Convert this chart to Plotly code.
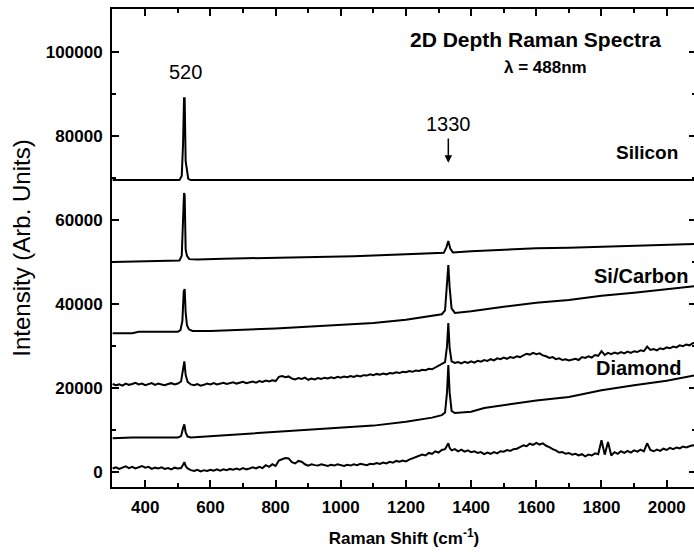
import plotly.graph_objects as go

# ---- Data ----
si_x = [300, 400, 500, 505, 512, 516, 519, 521, 524, 528, 532, 540, 700, 1000, 1300, 1600, 1900, 2090]
si_y = [69500, 69500, 69500, 69500, 70500, 78000, 89000, 89000, 74000, 72000, 69800, 69500, 69500, 69500, 69500, 69500, 69500, 69500]

t2_x = [300, 360, 420, 480, 505, 512, 516, 519, 521, 524, 528, 535, 560, 640, 720, 800, 880, 960, 1040, 1120,
        1200, 1280, 1316, 1324, 1330, 1336, 1344, 1400, 1500, 1600, 1700, 1800, 1900, 2000, 2090]
t2_y = [50000, 50100, 50200, 50300, 50400, 51500, 58000, 66400, 66000, 53000, 51500, 50700, 50600, 50800, 50900,
        51100, 51200, 51300, 51400, 51600, 51900, 52100, 52200, 53500, 55000, 53200, 52300, 52600, 52900, 53300,
        53400, 53600, 53800, 54000, 54300]

t3_x = [300, 360, 380, 500, 508, 514, 518, 521, 524, 528, 534, 545, 600, 660, 700, 800, 900, 1000, 1100, 1200,
        1280, 1310, 1320, 1326, 1330, 1334, 1340, 1350, 1400, 1500, 1600, 1700, 1800, 1900, 2000, 2090]
t3_y = [33100, 33100, 33400, 33400, 33800, 36000, 43000, 43600, 38000, 35000, 34000, 33600, 33600, 33700, 33900,
        34200, 34600, 35000, 35500, 36300, 37200, 37600, 38500, 44000, 49300, 44000, 39000, 37900, 38300, 39400,
        40300, 41000, 42000, 42700, 43500, 44300]

t4_x = list(range(300, 511, 10)) + [516, 520, 524] + list(range(530, 1321, 10)) + [1326, 1330, 1334] + list(range(1340, 2091, 10))
t4_y = [21000, 20700, 20900, 20600, 21100, 20800, 21000, 21300, 20900, 21100, 20700, 21000, 21200, 20800, 21100,
        20900, 20700, 21000, 21200, 20900, 21100, 21600,
        24800, 26400, 23200,
        21500, 20900, 20700, 21000, 20600, 20800, 21100, 20900, 21200, 20900,
        21100, 21300, 21000, 21200, 21400, 21100, 21300, 21500, 21200, 21400,
        21600, 21300, 21700, 21500, 21800, 21600, 21900, 21700, 22700, 22900,
        22600, 22800, 22300, 22100, 22400, 22200, 22500, 22000, 22300, 22100,
        22400, 22200, 22500, 22300, 22600, 22400, 22700, 22500, 22800, 22600,
        22900, 22700, 23000, 22800, 23100, 23000, 23300, 23100, 23400, 23200,
        23500, 23300, 23600, 23500, 23800, 23600, 23900, 23800, 24100, 23900,
        24200, 24100, 24400, 24300, 24600, 24500, 24900, 25200, 25600, 26200,
        30000, 35500, 29500,
        26400, 26000, 26200, 25900, 26300, 26000, 26400, 26100, 26500, 26300,
        26700, 26500, 26900, 26600, 27100, 26900, 27300, 27000, 27400, 27200,
        27600, 27400, 27900, 28200, 28000, 28400, 28100, 28300, 27800, 27600,
        27200, 27400, 26900, 27100, 26700, 26900, 26600, 26800, 27000, 26700,
        27400, 27200, 27600, 27300, 27900, 27700, 28800, 27900, 28400, 28100,
        28500, 28200, 28600, 28300, 28700, 28400, 28800, 28600, 29000, 28800,
        29900, 29100, 29300, 29000, 29500, 29300, 29700, 29500, 29900, 29700,
        30200, 30000, 30400, 30200, 30700, 30800]

t5_x = [300, 360, 500, 510, 516, 520, 524, 530, 540, 600, 700, 800, 900, 1000, 1100, 1200, 1280, 1310, 1320,
        1326, 1330, 1334, 1340, 1350, 1400, 1440, 1500, 1600, 1700, 1800, 1900, 2000, 2090]
t5_y = [8100, 8300, 8300, 8600, 10500, 11400, 9500, 8500, 8300, 8600, 9000, 9500, 10000, 10500, 11100, 12000,
        13000, 13600, 14200, 19000, 25500, 19000, 14600, 14100, 14400, 15300, 16000, 17100, 17900, 19500, 20700,
        21800, 23100]

t6_x = list(range(300, 511, 10)) + [516, 520, 524] + list(range(530, 1321, 10)) + [1326, 1330, 1334] + list(range(1340, 2091, 10))
t6_y = [900, 1200, 800, 1100, 1400, 1000, 1300, 900, 1200, 1500, 1100, 1300, 800, 1100, 900, 1200, 800, 1000,
        700, 1100, 900, 1000,
        1800, 2400, 1500,
        900, 500, 300, 600, 200, 500, 300, 600, 400, 700,
        400, 700, 500, 800, 600, 900, 600, 1000, 700, 900,
        1200, 900, 1300, 1000, 1700, 1300, 1900, 1500, 2800, 3100,
        3400, 3300, 2400, 2100, 2700, 2500, 1900, 1600, 1900, 1700,
        1600, 1900, 1700, 1500, 1800, 1600, 1900, 1700, 1500, 1800,
        1600, 1900, 1700, 2000, 1800, 1700, 2000, 1900, 2200, 2000,
        2300, 2100, 2500, 2300, 2700, 2500, 2800, 2600, 3000, 3300,
        3600, 3900, 4200, 4000, 4600, 4400, 5000, 4700, 5300, 5500,
        6300, 6900, 5800,
        5200, 5500, 5000, 5400, 4900, 5200, 4800, 5000, 4600, 4800,
        4300, 4700, 4400, 4800, 4500, 5000, 4900, 5300, 5100, 5500,
        5600, 6000, 6400, 6200, 6800, 6500, 7000, 6600, 6900, 6300,
        6000, 5500, 5200, 4700, 4800, 4400, 4600, 4200, 4400, 4000,
        4300, 3800, 4200, 4000, 4500, 4300, 7600, 4200, 7200, 4000,
        4800, 4400, 5000, 4600, 5100, 4700, 5200, 4900, 5400, 5000,
        6900, 5300, 5000, 5400, 5100, 5600, 5300, 5800, 5500, 5900,
        5700, 6100, 5900, 6200, 6400, 6300]

series = [(si_x, si_y), (t2_x, t2_y), (t3_x, t3_y), (t4_x, t4_y), (t5_x, t5_y), (t6_x, t6_y)]

x_ticks = [400, 600, 800, 1000, 1200, 1400, 1600, 1800, 2000]
y_ticks = [0, 20000, 40000, 60000, 80000, 100000]

FONT = "Liberation Sans, Arial, sans-serif"

fig = go.Figure()
for xs, ys in series:
    fig.add_trace(go.Scatter(x=xs, y=ys, mode="lines",
                             line=dict(color="black", width=2), showlegend=False,
                             hoverinfo="skip"))

def txt(x, y, s, size=15, xanchor="center", bold=True):
    fig.add_annotation(x=x, y=y, text=(f"<b>{s}</b>" if bold else s), showarrow=False,
                       xanchor=xanchor, yanchor="middle",
                       font=dict(family=FONT, size=size, color="black"))

txt(1599, 102860, "2D Depth Raman Spectra", size=21)
txt(1629, 96190, "λ = 488nm", size=17)
txt(522, 95240, "520", size=20, bold=False)
txt(2042, 75950, "Silicon", size=19, xanchor="right")
txt(2073, 46670, "Si/Carbon", size=20, xanchor="right")
txt(2054, 24760, "Diamond", size=20, xanchor="right")

# "1330" label with its down arrow
fig.add_annotation(x=1330, y=73600, ax=1330, ay=82860, axref="x", ayref="y",
                   xref="x", yref="y", text="1330", showarrow=True,
                   arrowhead=2, arrowsize=1, arrowwidth=1.5, arrowcolor="black",
                   startstandoff=2,
                   font=dict(family=FONT, size=20, color="black"))

axis_common = dict(showline=True, linecolor="black", linewidth=2, mirror="allticks",
                   ticks="inside", ticklen=7, tickwidth=2, tickcolor="black",
                   showgrid=False, zeroline=False, ticklabelstandoff=4,
                   tickfont=dict(family=FONT, size=17, color="black", weight="bold"))

fig.update_xaxes(range=[298, 2090], tickvals=x_ticks, ticktext=[str(v) for v in x_ticks],
                 minor=dict(ticks="inside", ticklen=4, tickwidth=2, dtick=100, tick0=0, tickcolor="black"),
                 title=dict(text="<b>Raman Shift (cm<sup>-1</sup>)</b>",
                            font=dict(family=FONT, size=17, color="black"), standoff=16),
                 **axis_common)
fig.update_yaxes(range=[-3500, 110200], tickvals=y_ticks, ticktext=[str(v) for v in y_ticks],
                 minor=dict(ticks="inside", ticklen=4, tickwidth=2, dtick=10000, tick0=0, tickcolor="black"),
                 title=dict(text="Intensity (Arb. Units)",
                            font=dict(family=FONT, size=24, color="black"), standoff=8),
                 **axis_common)

fig.update_layout(width=698, height=557, margin=dict(l=112, r=0, t=9, b=70),
                  plot_bgcolor="white", paper_bgcolor="white",
                  font=dict(family=FONT, color="black"))

fig.write_html("out.html", config={"displayModeBar": False},
               post_script="document.body.style.margin='0';document.body.style.overflow='hidden';")
